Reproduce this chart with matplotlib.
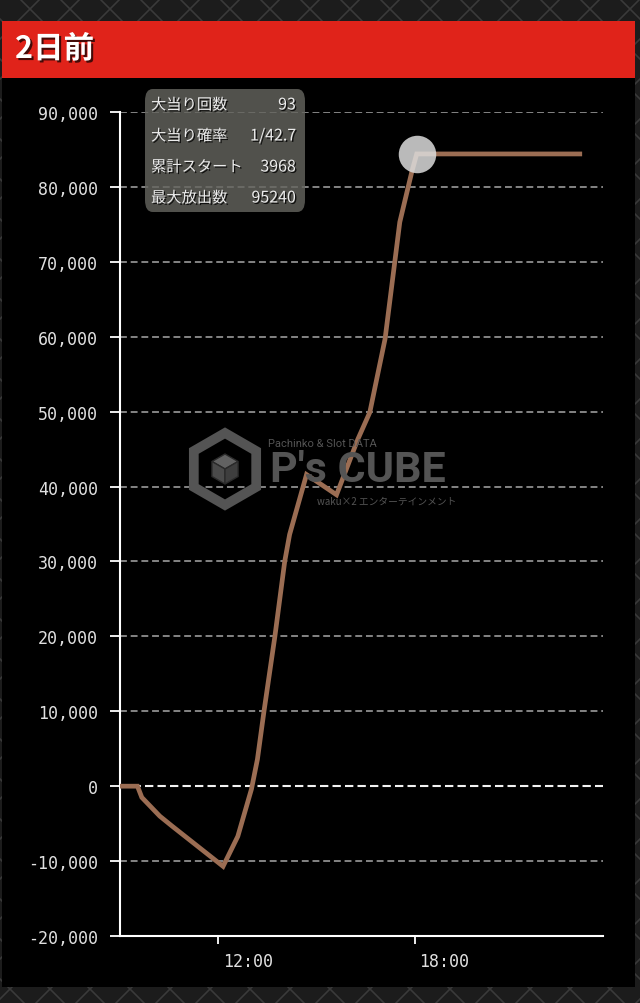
import numpy as np
import matplotlib
matplotlib.use("Agg")
import matplotlib.pyplot as plt
import matplotlib.patheffects as pe
from matplotlib.patches import FancyBboxPatch, Rectangle, Polygon
from matplotlib.transforms import ScaledTranslation

# --- data ---
times = ["9:00", "9:32", "9:40", "10:13", "10:35", "12:09", "12:36", "13:01",
         "13:12", "13:24", "13:44", "14:02", "14:11", "14:42", "15:37", "16:16",
         "16:38", "17:06", "17:33", "17:55", "18:04", "23:03"]
diff = [0, 0, -1500, -4000, -5300, -10700, -6700, -400,
        3600, 10000, 20000, 30000, 33600, 41600, 38900, 46300,
        49900, 59700, 75300, 82000, 84400, 84400]
peak_time, peak_val = "18:04", 84400
y_ticks = [-20000, -10000, 0, 10000, 20000, 30000, 40000, 50000, 60000, 70000, 80000, 90000]
x_ticks = ["12:00", "18:00"]
title = "2日前"
info_labels = ["大当り回数", "大当り確率", "累計スタート", "最大放出数"]
info_values = ["93", "1/42.7", "3968", "95240"]

CJK = ["Noto Sans CJK JP", "DejaVu Sans"]
W, H = 640, 1004


def hours(t):
    h, m = t.split(":")
    return int(h) + int(m) / 60


def px(x, y):
    return x / W, 1 - y / H


fig = plt.figure(figsize=(W / 100, H / 100), dpi=100)
fig.patch.set_facecolor("#1c1c1c")

# dark diamond pattern behind everything
bg = fig.add_axes([0, 0, 1, 1], zorder=-10)
bg.set_xlim(0, W); bg.set_ylim(H, 0); bg.axis("off")
for x0 in range(-1100, 700, 40):
    bg.plot([x0, x0 + 1100], [0, 1100], color="#3a3a3a", lw=1.2)
    bg.plot([x0 + 1100, x0], [0, 1100], color="#3a3a3a", lw=1.2)

# panels: red header + black chart area
fig.patches.append(Rectangle(px(2, 988), 633 / W, 910 / H, transform=fig.transFigure,
                             facecolor="black", edgecolor="none", zorder=-5))
fig.patches.append(Rectangle(px(2, 79), 633 / W, 57 / H, transform=fig.transFigure,
                             facecolor="#e0231a", edgecolor="none", zorder=-4))
shadow = [pe.withSimplePatchShadow(offset=(1.5, -1.5), shadow_rgbFace="black", alpha=0.7)]
fig.text(*px(15, 50), title, family=CJK, fontsize=22, fontweight="bold",
         color="white", va="center", ha="left", path_effects=shadow)

# watermark logo
wm = "#545454"
fig.text(*px(268, 444), "Pachinko & Slot DATA", family="Roboto", fontsize=8,
         color=wm, va="center", ha="left")
fig.text(*px(270, 470), "P's CUBE", family="Roboto", fontsize=31, fontweight="bold",
         color=wm, va="center", ha="left")
fig.text(*px(317, 502), "waku×2 エンターテインメント", family=CJK, fontsize=7,
         color=wm, va="center", ha="left")
cx, cy, r = 225, 470, 36
ang = np.deg2rad(np.arange(6) * 60 + 90)
outer = [px(cx + r * np.cos(a), cy - r * np.sin(a)) for a in ang]
fig.patches.append(Polygon(outer, closed=True, transform=fig.transFigure,
                           facecolor="none", edgecolor=wm, lw=7))
ri = 15
top = [px(cx, cy - ri), px(cx + ri * 0.87, cy - ri / 2), px(cx, cy), px(cx - ri * 0.87, cy - ri / 2)]
left = [px(cx - ri * 0.87, cy - ri / 2), px(cx, cy), px(cx, cy + ri), px(cx - ri * 0.87, cy + ri / 2)]
right = [px(cx + ri * 0.87, cy - ri / 2), px(cx, cy), px(cx, cy + ri), px(cx + ri * 0.87, cy + ri / 2)]
for poly, fc in [(top, "#626262"), (left, "#4a4a4a"), (right, "#3e3e3e")]:
    fig.patches.append(Polygon(poly, closed=True, transform=fig.transFigure,
                               facecolor=fc, edgecolor="#2a2a2a", lw=1))

# chart axes
ax = fig.add_axes([120 / W, (H - 937) / H, (603 - 120) / W, (937 - 113) / H])
ax.set_facecolor("none")
ax.set_xlim(9, 23.76)
ax.set_ylim(-20000, 90000)

for v in y_ticks:
    if v == 0:
        ax.axhline(v, color="#f2f2f2", lw=1.5, ls=(0, (4, 2)), zorder=1)
    elif v > -20000:
        ax.axhline(v, color="#a8a8a8", lw=1.1, ls=(0, (4.5, 2.5)), zorder=1)

ax.plot([hours(t) for t in times], diff, color="#9b6d53", lw=3.4,
        solid_joinstyle="miter", zorder=3)
ax.plot([hours(peak_time)], [peak_val], "o", ms=27, color="#dcdcdc",
        alpha=0.85, mec="none", zorder=4)

ax.set_yticks(y_ticks)
ax.set_yticklabels([f"{v:,}" for v in y_ticks])
ax.set_xticks([hours(t) for t in x_ticks])
ax.set_xticklabels(x_ticks)
for s in ["top", "right"]:
    ax.spines[s].set_visible(False)
for s in ["left", "bottom"]:
    ax.spines[s].set_color("white")
    ax.spines[s].set_linewidth(1.5)
ax.tick_params(axis="y", length=7.2, width=1.3, color="white", labelcolor="#e0e0e0",
               labelsize=12, pad=8.5)
ax.tick_params(axis="x", length=6, width=1.3, color="white", labelcolor="#e0e0e0",
               labelsize=12, pad=5.5)
for lbl in ax.get_yticklabels() + ax.get_xticklabels():
    lbl.set_family("DejaVu Sans Mono")
for lbl in ax.get_xticklabels():
    lbl.set_ha("left")
    lbl.set_transform(lbl.get_transform() + ScaledTranslation(0.045, 0, fig.dpi_scale_trans))

# tooltip box
x0, y0 = px(145, 213)
fig.patches.append(FancyBboxPatch((x0, y0), (305 - 145) / W, (213 - 90) / H,
                                  boxstyle="round,pad=0,rounding_size=0.012",
                                  transform=fig.transFigure, facecolor="#64645e",
                                  edgecolor="none", alpha=0.82, zorder=5))
tshadow = [pe.withSimplePatchShadow(offset=(1, -1), shadow_rgbFace="black", alpha=0.8)]
for i, (lab, val) in enumerate(zip(info_labels, info_values)):
    yy = 106 + i * 31
    fig.text(*px(151, yy), lab, family=CJK, fontsize=11, color="#ececec",
             va="center", ha="left", path_effects=tshadow, zorder=6)
    fig.text(*px(296, yy), val, family=CJK, fontsize=11.5, color="#ececec",
             va="center", ha="right", path_effects=tshadow, zorder=6)

fig.savefig("out.png", dpi=100, facecolor=fig.get_facecolor())
